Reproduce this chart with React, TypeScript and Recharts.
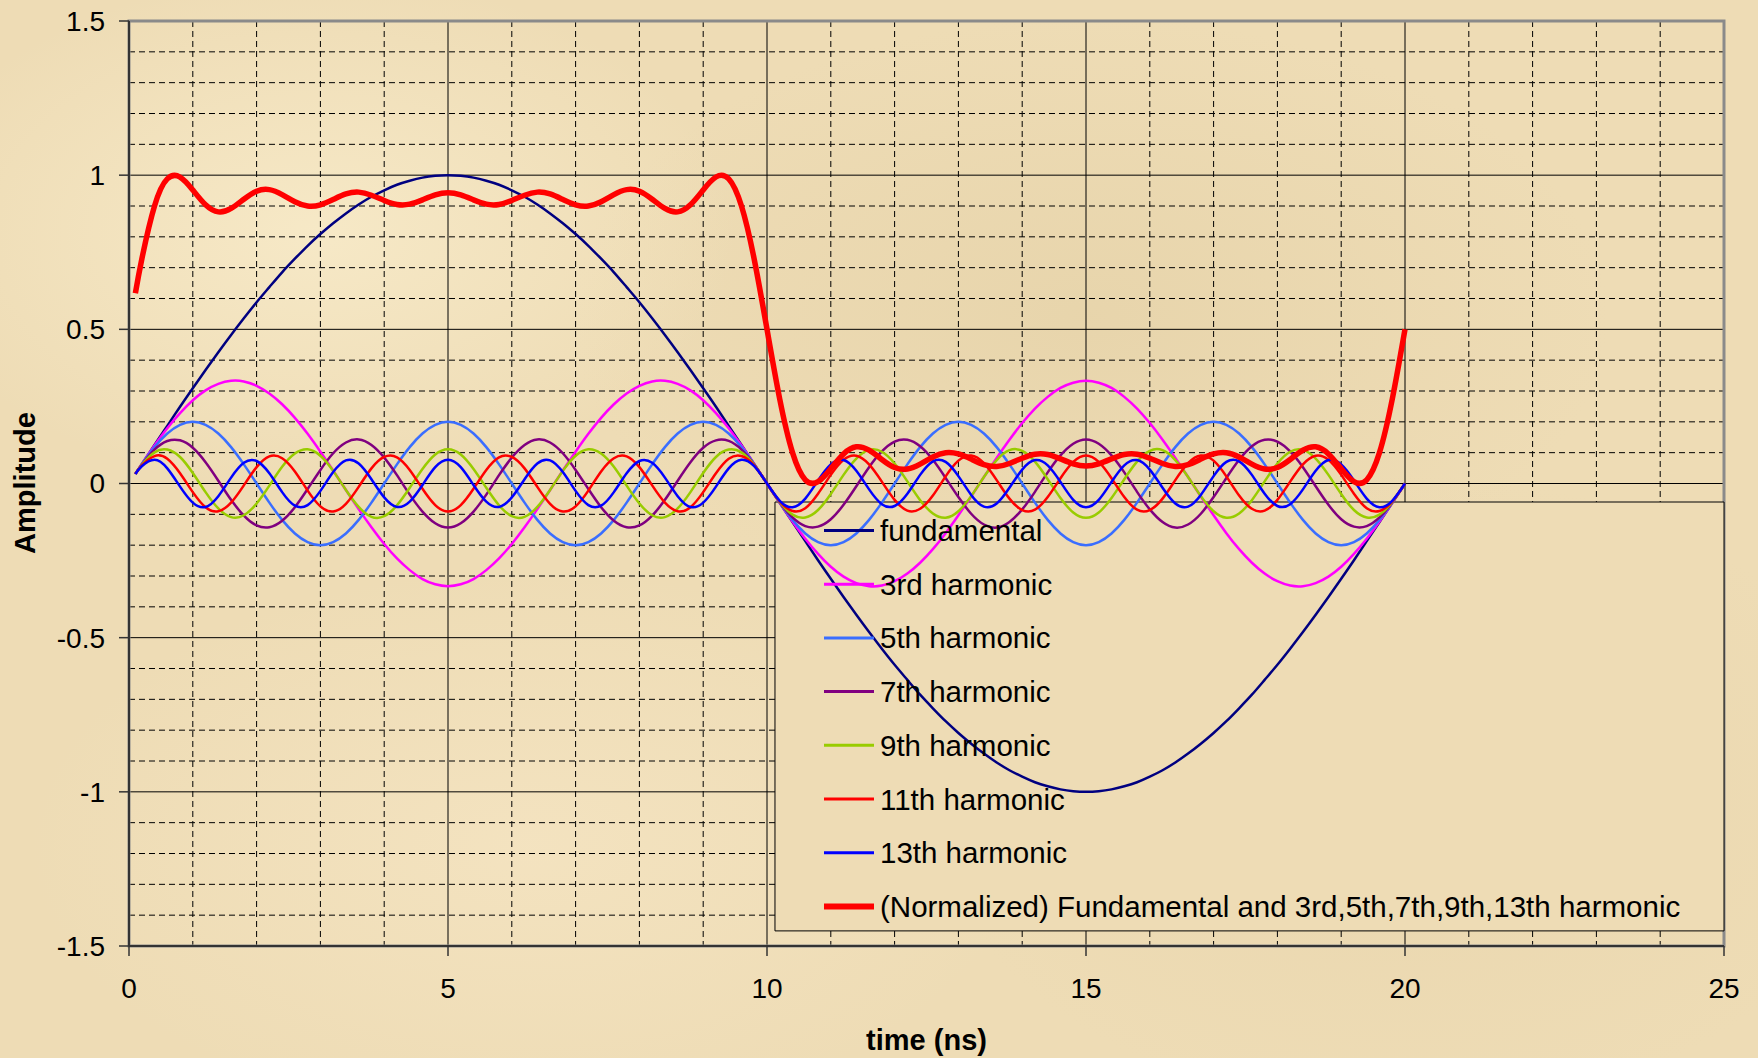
import React from 'react'
import {
  LineChart,
  Line,
  XAxis,
  YAxis,
  CartesianGrid,
  ReferenceArea,
  Label,
} from 'recharts'

// time axis (ns)
const TIME_NS = [
  0.1, 0.2, 0.4, 0.6, 0.8, 1, 1.2, 1.4, 1.6, 1.8, 2, 2.2, 2.4, 2.6, 2.8, 3, 3.2, 3.4, 3.6, 3.8, 4,
  4.2, 4.4, 4.6, 4.8, 5, 5.2, 5.4, 5.6, 5.8, 6, 6.2, 6.4, 6.6, 6.8, 7, 7.2, 7.4, 7.6, 7.8, 8,
  8.2, 8.4, 8.6, 8.8, 9, 9.2, 9.4, 9.6, 9.8, 10, 10.2, 10.4, 10.6, 10.8, 11, 11.2, 11.4, 11.6, 11.8, 12,
  12.2, 12.4, 12.6, 12.8, 13, 13.2, 13.4, 13.6, 13.8, 14, 14.2, 14.4, 14.6, 14.8, 15, 15.2, 15.4, 15.6, 15.8, 16,
  16.2, 16.4, 16.6, 16.8, 17, 17.2, 17.4, 17.6, 17.8, 18, 18.2, 18.4, 18.6, 18.8, 19, 19.2, 19.4, 19.6, 19.8, 20,
]

const FUNDAMENTAL = [
  0.031,
  0.063, 0.125, 0.187, 0.249, 0.309, 0.368, 0.426, 0.482, 0.536, 0.588, 0.637, 0.685, 0.729, 0.771, 0.809, 0.844, 0.876, 0.905, 0.93, 0.951, 0.969, 0.982, 0.992, 0.998, 1,
  0.998, 0.992, 0.982, 0.969, 0.951, 0.93, 0.905, 0.876, 0.844, 0.809, 0.771, 0.729, 0.685, 0.637, 0.588, 0.536, 0.482, 0.426, 0.368, 0.309, 0.249, 0.187, 0.125, 0.063,
  0,
  -0.063, -0.125, -0.187, -0.249, -0.309, -0.368, -0.426, -0.482, -0.536, -0.588, -0.637, -0.685, -0.729, -0.771, -0.809, -0.844, -0.876, -0.905, -0.93, -0.951, -0.969, -0.982, -0.992, -0.998, -1,
  -0.998, -0.992, -0.982, -0.969, -0.951, -0.93, -0.905, -0.876, -0.844, -0.809, -0.771, -0.729, -0.685, -0.637, -0.588, -0.536, -0.482, -0.426, -0.368, -0.309, -0.249, -0.187, -0.125, -0.063,
  0,
]

const HARM_3 = [
  0.031,
  0.063, 0.123, 0.179, 0.228, 0.27, 0.302, 0.323, 0.333, 0.331, 0.317, 0.292, 0.257, 0.213, 0.161, 0.103, 0.042, -0.021, -0.083, -0.142, -0.196, -0.243, -0.281, -0.31, -0.327, -0.333,
  -0.327, -0.31, -0.281, -0.243, -0.196, -0.142, -0.083, -0.021, 0.042, 0.103, 0.161, 0.213, 0.257, 0.292, 0.317, 0.331, 0.333, 0.323, 0.302, 0.27, 0.228, 0.179, 0.123, 0.063,
  0,
  -0.063, -0.123, -0.179, -0.228, -0.27, -0.302, -0.323, -0.333, -0.331, -0.317, -0.292, -0.257, -0.213, -0.161, -0.103, -0.042, 0.021, 0.083, 0.142, 0.196, 0.243, 0.281, 0.31, 0.327, 0.333,
  0.327, 0.31, 0.281, 0.243, 0.196, 0.142, 0.083, 0.021, -0.042, -0.103, -0.161, -0.213, -0.257, -0.292, -0.317, -0.331, -0.333, -0.323, -0.302, -0.27, -0.228, -0.179, -0.123, -0.063,
  0,
]

const HARM_5 = [
  0.031,
  0.062, 0.118, 0.162, 0.19, 0.2, 0.19, 0.162, 0.118, 0.062, 0, -0.062, -0.118, -0.162, -0.19, -0.2, -0.19, -0.162, -0.118, -0.062, 0, 0.062, 0.118, 0.162, 0.19, 0.2,
  0.19, 0.162, 0.118, 0.062, 0, -0.062, -0.118, -0.162, -0.19, -0.2, -0.19, -0.162, -0.118, -0.062, 0, 0.062, 0.118, 0.162, 0.19, 0.2, 0.19, 0.162, 0.118, 0.062,
  0,
  -0.062, -0.118, -0.162, -0.19, -0.2, -0.19, -0.162, -0.118, -0.062, 0, 0.062, 0.118, 0.162, 0.19, 0.2, 0.19, 0.162, 0.118, 0.062, 0, -0.062, -0.118, -0.162, -0.19, -0.2,
  -0.19, -0.162, -0.118, -0.062, 0, 0.062, 0.118, 0.162, 0.19, 0.2, 0.19, 0.162, 0.118, 0.062, 0, -0.062, -0.118, -0.162, -0.19, -0.2, -0.19, -0.162, -0.118, -0.062,
  0,
]

const HARM_7 = [
  0.031,
  0.061, 0.11, 0.138, 0.14, 0.116, 0.069, 0.009, -0.053, -0.104, -0.136, -0.142, -0.121, -0.077, -0.018, 0.044, 0.098, 0.133, 0.143, 0.125, 0.084, 0.027, -0.036, -0.091, -0.129, -0.143,
  -0.129, -0.091, -0.036, 0.027, 0.084, 0.125, 0.143, 0.133, 0.098, 0.044, -0.018, -0.077, -0.121, -0.142, -0.136, -0.104, -0.053, 0.009, 0.069, 0.116, 0.14, 0.138, 0.11, 0.061,
  0,
  -0.061, -0.11, -0.138, -0.14, -0.116, -0.069, -0.009, 0.053, 0.104, 0.136, 0.142, 0.121, 0.077, 0.018, -0.044, -0.098, -0.133, -0.143, -0.125, -0.084, -0.027, 0.036, 0.091, 0.129, 0.143,
  0.129, 0.091, 0.036, -0.027, -0.084, -0.125, -0.143, -0.133, -0.098, -0.044, 0.018, 0.077, 0.121, 0.142, 0.136, 0.104, 0.053, -0.009, -0.069, -0.116, -0.14, -0.138, -0.11, -0.061,
  0,
]

const HARM_9 = [
  0.031,
  0.06, 0.101, 0.11, 0.086, 0.034, -0.028, -0.081, -0.109, -0.103, -0.065, -0.007, 0.054, 0.097, 0.111, 0.09, 0.041, -0.021, -0.076, -0.108, -0.106, -0.071, -0.014, 0.047, 0.094, 0.111,
  0.094, 0.047, -0.014, -0.071, -0.106, -0.108, -0.076, -0.021, 0.041, 0.09, 0.111, 0.097, 0.054, -0.007, -0.065, -0.103, -0.109, -0.081, -0.028, 0.034, 0.086, 0.11, 0.101, 0.06,
  0,
  -0.06, -0.101, -0.11, -0.086, -0.034, 0.028, 0.081, 0.109, 0.103, 0.065, 0.007, -0.054, -0.097, -0.111, -0.09, -0.041, 0.021, 0.076, 0.108, 0.106, 0.071, 0.014, -0.047, -0.094, -0.111,
  -0.094, -0.047, 0.014, 0.071, 0.106, 0.108, 0.076, 0.021, -0.041, -0.09, -0.111, -0.097, -0.054, 0.007, 0.065, 0.103, 0.109, 0.081, 0.028, -0.034, -0.086, -0.11, -0.101, -0.06,
  0,
]

const HARM_11 = [
  0.031,
  0.058, 0.089, 0.08, 0.033, -0.028, -0.077, -0.09, -0.062, -0.006, 0.053, 0.088, 0.082, 0.039, -0.023, -0.074, -0.091, -0.066, -0.011, 0.049, 0.086, 0.085, 0.044, -0.017, -0.07, -0.091,
  -0.07, -0.017, 0.044, 0.085, 0.086, 0.049, -0.011, -0.066, -0.091, -0.074, -0.023, 0.039, 0.082, 0.088, 0.053, -0.006, -0.062, -0.09, -0.077, -0.028, 0.033, 0.08, 0.089, 0.058,
  0,
  -0.058, -0.089, -0.08, -0.033, 0.028, 0.077, 0.09, 0.062, 0.006, -0.053, -0.088, -0.082, -0.039, 0.023, 0.074, 0.091, 0.066, 0.011, -0.049, -0.086, -0.085, -0.044, 0.017, 0.07, 0.091,
  0.07, 0.017, -0.044, -0.085, -0.086, -0.049, 0.011, 0.066, 0.091, 0.074, 0.023, -0.039, -0.082, -0.088, -0.053, 0.006, 0.062, 0.09, 0.077, 0.028, -0.033, -0.08, -0.089, -0.058,
  0,
]

const HARM_13 = [
  0.031,
  0.056, 0.077, 0.049, -0.01, -0.062, -0.076, -0.041, 0.019, 0.067, 0.073, 0.033, -0.028, -0.072, -0.07, -0.024, 0.037, 0.075, 0.065, 0.014, -0.045, -0.076, -0.059, -0.005, 0.053, 0.077,
  0.053, -0.005, -0.059, -0.076, -0.045, 0.014, 0.065, 0.075, 0.037, -0.024, -0.07, -0.072, -0.028, 0.033, 0.073, 0.067, 0.019, -0.041, -0.076, -0.062, -0.01, 0.049, 0.077, 0.056,
  0,
  -0.056, -0.077, -0.049, 0.01, 0.062, 0.076, 0.041, -0.019, -0.067, -0.073, -0.033, 0.028, 0.072, 0.07, 0.024, -0.037, -0.075, -0.065, -0.014, 0.045, 0.076, 0.059, 0.005, -0.053, -0.077,
  -0.053, 0.005, 0.059, 0.076, 0.045, -0.014, -0.065, -0.075, -0.037, 0.024, 0.07, 0.072, 0.028, -0.033, -0.073, -0.067, -0.019, 0.041, 0.076, 0.062, 0.01, -0.049, -0.077, -0.056,
  0,
]

const NORMALIZED = [
  0.617,
  0.727, 0.9, 0.988, 0.994, 0.952, 0.904, 0.881, 0.892, 0.922, 0.948, 0.953, 0.937, 0.914, 0.9, 0.904, 0.921, 0.939, 0.945, 0.935, 0.918, 0.905, 0.906, 0.92, 0.936, 0.943,
  0.936, 0.92, 0.906, 0.905, 0.918, 0.935, 0.945, 0.939, 0.921, 0.904, 0.9, 0.914, 0.937, 0.953, 0.948, 0.922, 0.892, 0.881, 0.904, 0.952, 0.994, 0.988, 0.9, 0.727,
  0.5,
  0.273, 0.1, 0.012, 0.006, 0.048, 0.096, 0.119, 0.108, 0.078, 0.052, 0.047, 0.063, 0.086, 0.1, 0.096, 0.079, 0.061, 0.055, 0.065, 0.082, 0.095, 0.094, 0.08, 0.064, 0.057,
  0.064, 0.08, 0.094, 0.095, 0.082, 0.065, 0.055, 0.061, 0.079, 0.096, 0.1, 0.086, 0.063, 0.047, 0.052, 0.078, 0.108, 0.119, 0.096, 0.048, 0.006, 0.012, 0.1, 0.273,
  0.5,
]

const X_TICKS = [0, 5, 10, 15, 20, 25]
const Y_TICKS = [-1.5, -1, -0.5, 0, 0.5, 1, 1.5]
const X_MAJOR = [5, 10, 15, 20]
const Y_MAJOR = [-1, -0.5, 0, 0.5, 1]
const X_MINOR = [1, 2, 3, 4, 6, 7, 8, 9, 11, 12, 13, 14, 16, 17, 18, 19, 21, 22, 23, 24]
const Y_MINOR = [
  -1.4, -1.3, -1.2, -1.1, -0.9, -0.8, -0.7, -0.6, -0.4, -0.3, -0.2, -0.1,
  0.1, 0.2, 0.3, 0.4, 0.6, 0.7, 0.8, 0.9, 1.1, 1.2, 1.3, 1.4,
]

const SERIES = [
  { key: 'fund', name: 'fundamental', color: '#000080', width: 2.5, values: FUNDAMENTAL },
  { key: 'h3', name: '3rd harmonic', color: '#FF00FF', width: 2.5, values: HARM_3 },
  { key: 'h5', name: '5th harmonic', color: '#3A6EFF', width: 2.5, values: HARM_5 },
  { key: 'h7', name: '7th harmonic', color: '#800080', width: 2.5, values: HARM_7 },
  { key: 'h9', name: '9th harmonic', color: '#99CC00', width: 2.5, values: HARM_9 },
  { key: 'h11', name: '11th harmonic', color: '#FF0000', width: 2.5, values: HARM_11 },
  { key: 'h13', name: '13th harmonic', color: '#0000FF', width: 2.5, values: HARM_13 },
  {
    key: 'norm',
    name: '(Normalized) Fundamental and 3rd,5th,7th,9th,13th harmonic',
    color: '#FF0000',
    width: 5.5,
    values: NORMALIZED,
  },
]

const rows = TIME_NS.map((t, i) => {
  const row: Record<string, number> = { t }
  SERIES.forEach((s) => {
    row[s.key] = s.values[i]
  })
  return row
})

const W = 1758
const H = 1058
const FONT = '"Liberation Sans", Arial, sans-serif'
const PAPER = '#EEDCB5'

const renderYLabel = () => (
  <text
    x={25}
    y={483}
    transform="rotate(-90 25 483)"
    textAnchor="middle"
    dominantBaseline="central"
    fontFamily={FONT}
    fontSize={29}
    fontWeight="bold"
    fill="#000"
  >
    Amplitude
  </text>
)

export default function App() {
  return (
    <div
      style={{
        position: 'fixed',
        left: 0,
        top: 0,
        width: W,
        height: H,
        overflow: 'hidden',
        background: `radial-gradient(ellipse 420px 260px at 18% 22%, rgba(250,238,206,0.7), transparent),
          radial-gradient(ellipse 520px 300px at 62% 30%, rgba(224,204,160,0.45), transparent),
          radial-gradient(ellipse 480px 320px at 80% 75%, rgba(228,208,166,0.45), transparent),
          radial-gradient(ellipse 500px 280px at 30% 80%, rgba(248,232,200,0.55), transparent),
          ${PAPER}`,
      }}
    >
      <LineChart
        width={W}
        height={H}
        data={rows}
        margin={{ top: 21, right: 34, bottom: 0, left: 0 }}
      >
        <CartesianGrid
          verticalValues={X_MINOR}
          horizontalValues={Y_MINOR}
          stroke="#000"
          strokeWidth={1}
          strokeDasharray="6 4"
        />
        <CartesianGrid
          verticalValues={X_MAJOR}
          horizontalValues={Y_MAJOR}
          stroke="#000"
          strokeWidth={1}
        />
        <ReferenceArea
          x1={0}
          x2={25}
          y1={-1.5}
          y2={1.5}
          fill="none"
          stroke="#8a8a8a"
          strokeWidth={3}
          zIndex={-40}
        />
        <ReferenceArea
          x1={10.125}
          x2={25}
          y1={-1.451}
          y2={-0.06}
          fill={PAPER}
          fillOpacity={1}
          stroke="#000"
          strokeWidth={1}
          zIndex={-30}
        />
        <XAxis
          dataKey="t"
          type="number"
          domain={[0, 25]}
          ticks={X_TICKS}
          allowDataOverflow
          height={112}
          tickSize={10}
          tickMargin={22}
          axisLine={{ stroke: '#333', strokeWidth: 2 }}
          tickLine={{ stroke: '#333', strokeWidth: 1.5 }}
          tick={{ fontSize: 28, fill: '#000', fontFamily: FONT }}
          label={{
            value: 'time (ns)',
            position: 'insideBottom',
            offset: 8,
            fontSize: 29,
            fontWeight: 'bold',
            fill: '#000',
            fontFamily: FONT,
          }}
        />
        <YAxis
          type="number"
          domain={[-1.5, 1.5]}
          ticks={Y_TICKS}
          allowDataOverflow
          width={129}
          tickSize={10}
          tickMargin={14}
          axisLine={{ stroke: '#333', strokeWidth: 2 }}
          tickLine={{ stroke: '#333', strokeWidth: 1.5 }}
          tick={{ fontSize: 28, fill: '#000', fontFamily: FONT }}
        >
          <Label content={renderYLabel} />
        </YAxis>
        {SERIES.map((s) => (
          <Line
            key={s.key}
            dataKey={s.key}
            name={s.name}
            type="natural"
            stroke={s.color}
            strokeWidth={s.width}
            dot={false}
            activeDot={false}
            isAnimationActive={false}
          />
        ))}
      </LineChart>
      <svg
        width={W}
        height={H}
        style={{ position: 'absolute', left: 0, top: 0, pointerEvents: 'none' }}
      >
        {SERIES.map((s, i) => {
          const y = 530.5 + i * 53.7
          return (
            <g key={s.key}>
              <line x1={824} x2={874} y1={y} y2={y} stroke={s.color} strokeWidth={s.width === 2.5 ? 3 : 6} />
              <text
                x={880}
                y={y}
                dominantBaseline="central"
                fontFamily={FONT}
                fontSize={29.5}
                fill="#000"
              >
                {s.name}
              </text>
            </g>
          )
        })}
      </svg>
    </div>
  )
}
